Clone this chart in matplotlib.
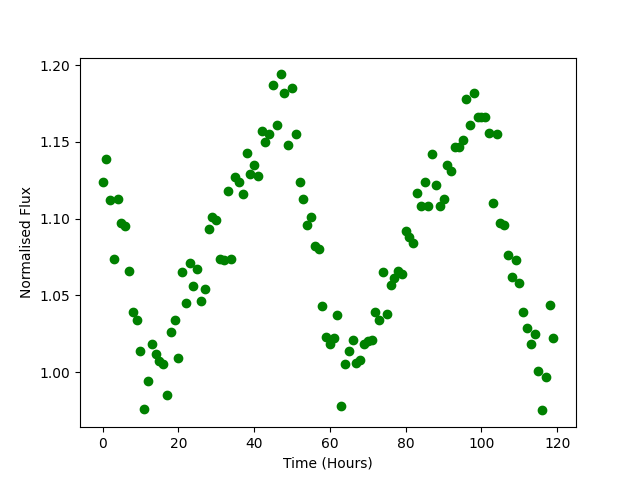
import numpy as np
import matplotlib
matplotlib.use("Agg")
import matplotlib.pyplot as plt

# time in hours, one reading per hour
hours = np.arange(120)

flux = [
    1.124, 1.139, 1.112, 1.074, 1.113, 1.097, 1.095, 1.066, 1.039, 1.034,
    1.014, 0.976, 0.994, 1.018, 1.012, 1.007, 1.005, 0.985, 1.026, 1.034,
    1.009, 1.065, 1.045, 1.071, 1.056, 1.067, 1.046, 1.054, 1.093, 1.101,
    1.099, 1.074, 1.073, 1.118, 1.074, 1.127, 1.124, 1.116, 1.143, 1.129,
    1.135, 1.128, 1.157, 1.150, 1.155, 1.187, 1.161, 1.194, 1.182, 1.148,
    1.185, 1.155, 1.124, 1.113, 1.096, 1.101, 1.082, 1.080, 1.043, 1.023,
    1.018, 1.022, 1.037, 0.978, 1.005, 1.014, 1.021, 1.006, 1.008, 1.018,
    1.020, 1.021, 1.039, 1.034, 1.065, 1.038, 1.057, 1.061, 1.066, 1.064,
    1.092, 1.088, 1.084, 1.117, 1.108, 1.124, 1.108, 1.142, 1.122, 1.108,
    1.113, 1.135, 1.131, 1.147, 1.147, 1.151, 1.178, 1.161, 1.182, 1.166,
    1.166, 1.166, 1.156, 1.110, 1.155, 1.097, 1.096, 1.076, 1.062, 1.073,
    1.058, 1.039, 1.029, 1.018, 1.025, 1.001, 0.975, 0.997, 1.044, 1.022,
]

plt.figure(figsize=(6.4, 4.8), dpi=100)
plt.plot(hours, flux, "o", color="green")
plt.xlabel("Time (Hours)")
plt.ylabel("Normalised Flux")
plt.savefig("out.png")
